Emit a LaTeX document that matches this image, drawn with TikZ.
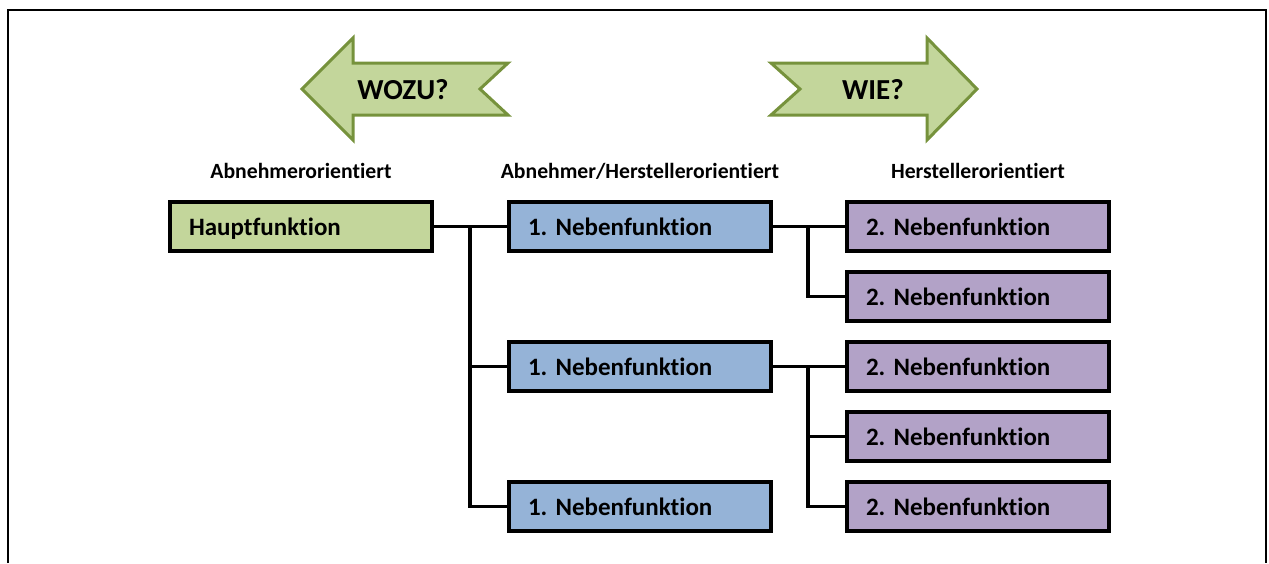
\documentclass[tikz,border=0pt]{standalone}
\usepackage{fontspec}
\setmainfont{Carlito}[Ligatures=NoCommon]
\definecolor{grfill}{HTML}{C3D69B}
\definecolor{grline}{HTML}{76923C}
\definecolor{blfill}{HTML}{95B3D7}
\definecolor{pufill}{HTML}{B2A2C7}
\begin{document}
\frenchspacing
\begin{tikzpicture}[x=1pt,y=-1pt,
  fbox/.style={draw=black, line width=4pt, minimum height=49pt, text width=224pt, inner xsep=19pt, text height=18pt, text depth=1pt, align=left, font=\fontsize{25}{28}\selectfont\bfseries},
  hdr/.style={font=\fontsize{21.7}{24}\selectfont\bfseries},
  conn/.style={line width=3.6pt},
  bigarrow/.style={draw=grline, fill=grfill, line width=3pt, line join=miter},
  arrowtxt/.style={font=\fontsize{29}{32}\selectfont\bfseries}]
\useasboundingbox (0,0) rectangle (1269,563);
% frame
\draw[line width=2pt] (8,563) -- (8,10) -- (1266,10) -- (1266,563);
% arrows
\draw[bigarrow] (302,89) -- (353,38) -- (353,63) -- (508,63) -- (480,89) -- (508,115) -- (353,115) -- (353,140) -- cycle;
\node[arrowtxt] (wozu) at (403,90) {WOZU?};
\draw[bigarrow] (977,89) -- (927,38) -- (927,63) -- (771,63) -- (800,89) -- (771,115) -- (927,115) -- (927,140) -- cycle;
\node[arrowtxt] (wie) at (873,90) {WIE?};
% headers
\node[hdr] (h1) at (301,171) {Abnehmerorientiert};
\node[hdr] (h2) at (640,171) {Abnehmer/Herstellerorientiert};
\node[hdr] (h3) at (978,171) {Herstellerorientiert};
% boxes
\node[fbox, fill=grfill] (haupt) at (301,226.5) {Hauptfunktion};
\node[fbox, fill=blfill] (na) at (640,226.5) {1. Nebenfunktion};
\node[fbox, fill=blfill] (nb) at (640,366.5) {1. Nebenfunktion};
\node[fbox, fill=blfill] (nc) at (640,506.5) {1. Nebenfunktion};
\node[fbox, fill=pufill] (pa) at (978,226.5) {2. Nebenfunktion};
\node[fbox, fill=pufill] (pb) at (978,296.5) {2. Nebenfunktion};
\node[fbox, fill=pufill] (pc) at (978,366.5) {2. Nebenfunktion};
\node[fbox, fill=pufill] (pd) at (978,436.5) {2. Nebenfunktion};
\node[fbox, fill=pufill] (pe) at (978,506.5) {2. Nebenfunktion};
% connectors
\coordinate (j1) at (470,226.5);
\coordinate (j2) at (808,226.5);
\coordinate (j3) at (808,366.5);
\draw[conn] (haupt.east) -- (na.west);
\draw[conn] (j1) |- (nb.west);
\draw[conn] (j1) |- (nc.west);
\draw[conn] (na.east) -- (pa.west);
\draw[conn] (j2) |- (pb.west);
\draw[conn] (nb.east) -- (pc.west);
\draw[conn] (j3) |- (pd.west);
\draw[conn] (j3) |- (pe.west);
\end{tikzpicture}
\end{document}
